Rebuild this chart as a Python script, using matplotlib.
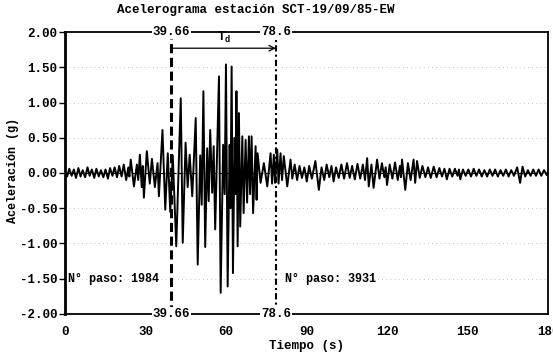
import matplotlib
matplotlib.use('Agg')
import matplotlib.pyplot as plt
import numpy as np

# ---------------- data ----------------
pre_t = [
    0.0, 0.8, 1.6, 2.5, 3.3, 4.1, 5.0, 5.8, 6.6, 7.5,
    8.4, 9.2, 10.0, 10.9, 11.7, 12.6, 13.4, 14.3, 15.1, 16.0,
    16.8, 17.7, 18.5, 19.4, 20.2, 21.1, 21.9, 22.8, 23.6, 24.0,
    24.5, 25.7, 26.8, 27.3, 27.9, 28.6, 29.0, 29.4, 30.5, 31.6,
    32.4, 33.5, 34.5]
pre_a = [
    0.02, -0.05, 0.06, -0.04, 0.05, -0.07, 0.07, -0.05, 0.04, -0.06,
    0.08, -0.04, 0.05, -0.07, 0.06, -0.05, 0.04, -0.06, 0.05, -0.08,
    0.07, -0.04, 0.08, -0.06, 0.10, -0.05, 0.12, -0.10, 0.08, -0.05,
    0.19, -0.19, 0.12, -0.10, 0.26, -0.20, 0.10, -0.35, 0.31, -0.15,
    0.20, -0.20, 0.14]

strong_t = [
    35.0, 36.33, 37.37, 38.30, 39.23, 40.16, 41.47, 43.14, 43.88, 44.94,
    45.72, 46.47, 47.42, 48.72, 49.46, 50.39, 50.95, 51.58, 52.25, 52.99,
    53.55, 54.11, 54.85, 55.41, 55.97, 57.38, 58.01, 58.94, 59.50, 59.99,
    60.62, 61.36, 61.66, 62.10, 62.59, 63.22, 63.59, 63.89, 64.34, 64.82,
    65.30, 66.08, 66.57, 67.31, 67.87, 68.54, 68.98, 69.54, 70.10, 71.03,
    71.40, 71.77, 72.89, 74.12, 75.38, 76.61, 77.17, 77.84, 78.28, 79.10,
    79.58, 80.33, 80.88, 81.55, 82.82]
strong_a = [
    -0.33, 0.61, -0.52, 0.28, -0.55, 0.25, -1.04, 1.06, -0.99, 0.43,
    -0.20, 0.26, -0.33, 0.78, -1.30, 0.25, -0.45, 1.16, -1.05, 0.35,
    -0.40, 0.61, -0.28, 0.38, -0.80, 1.37, -1.70, 0.40, -0.30, 1.54,
    -1.61, 0.40, -0.50, 1.51, -1.42, 0.50, -0.30, 1.16, -1.04, 0.85,
    -0.76, 0.52, -0.57, 0.47, -0.42, 0.52, -0.30, 0.52, -0.57, 0.38,
    -0.38, 0.28, -0.14, 0.14, -0.19, 0.28, -0.15, 0.26, -0.14, 0.33,
    -0.15, 0.28, -0.10, 0.24, -0.19]

post_t = [
    84.05, 84.7, 85.6, 86.5, 87.4, 88.3, 89.2, 90.1, 91.0, 92.0,
    93.3, 94.6, 95.6, 96.6, 97.5, 98.5, 99.3, 100.1, 101.0, 102.0,
    103.0, 104.0, 105.1, 106.1, 107.0, 108.0, 109.0, 110.0, 111.0, 111.8,
    112.6, 113.2, 114.2, 115.0, 116.3, 117.2, 118.1, 119.0, 119.5, 120.0,
    121.0, 122.0, 123.0, 124.0, 124.8, 125.2, 125.6, 126.8, 127.8, 128.8,
    129.9, 130.5, 131.2, 132.2, 133.2, 134.3, 135.3, 136.3, 137.4, 138.5,
    139.5, 140.5, 141.4, 142.3, 143.3, 144.3, 145.3, 146.3, 146.8, 147.3,
    148.3, 149.3, 150.3, 151.3, 152.3, 153.3, 154.3, 155.3, 156.3, 157.3,
    158.3, 159.3, 160.3, 161.3, 162.3, 163.3, 164.3, 165.3, 166.3, 167.3,
    168.5, 169.6, 170.5, 171.5, 172.5, 173.5, 174.5, 175.5, 176.5, 177.5,
    178.5, 179.5, 180.0]
post_a = [
    0.19, -0.08, 0.12, -0.10, 0.10, -0.07, 0.08, -0.12, 0.10, -0.08,
    0.17, -0.24, 0.08, -0.10, 0.12, -0.06, 0.10, -0.12, 0.08, -0.07,
    0.12, -0.08, 0.14, -0.07, 0.10, -0.09, 0.13, -0.08, 0.12, -0.10,
    0.21, -0.19, 0.12, -0.21, 0.19, -0.08, 0.14, -0.06, 0.08, -0.17,
    0.12, -0.08, 0.15, -0.10, 0.10, -0.06, 0.19, -0.24, 0.14, -0.10,
    0.19, -0.14, 0.17, -0.07, 0.10, -0.06, 0.08, -0.07, 0.09, -0.06,
    0.07, -0.05, 0.06, -0.09, 0.06, -0.05, 0.06, -0.04, 0.05, -0.09,
    0.05, -0.04, 0.05, -0.05, 0.06, -0.04, 0.05, -0.05, 0.04, -0.05,
    0.05, -0.04, 0.05, -0.05, 0.04, -0.04, 0.05, -0.05, 0.04, -0.04,
    0.08, -0.14, 0.09, -0.05, 0.04, -0.04, 0.05, -0.04, 0.05, -0.04,
    0.04, -0.03, 0.02]

t_start = 39.66
t_end = 78.6
start_label = "39.66"
end_label_top = "78.6"
end_label_bottom = "78.6"
step_start = 1984
step_end = 3931

x_ticks = [0, 30, 60, 90, 120, 150, 180]
x_tick_labels = ["0", "30", "60", "90", "120", "150", "180"]
y_ticks = [2.0, 1.5, 1.0, 0.5, 0.0, -0.5, -1.0, -1.5, -2.0]
y_tick_labels = ["2.00", "1.50", "1.00", "0.50", "0.00", "-0.50", "-1.00", "-1.50", "-2.00"]
grid_levels = [1.5, 1.0, 0.5, -0.5, -1.0, -1.5]

title = "Acelerograma estación SCT-19/09/85-EW"
xlabel = "Tiempo (s)"
ylabel = "Aceleración (g)"

assert len(pre_t) == len(pre_a)
assert len(strong_t) == len(strong_a)
assert len(post_t) == len(post_a)

# ---------------- drawing ----------------
plt.rcParams['font.family'] = ['Liberation Mono', 'DejaVu Sans Mono']
plt.rcParams['font.weight'] = 'bold'
plt.rcParams['mathtext.default'] = 'regular'

fig = plt.figure(figsize=(5.53, 3.54), dpi=100)
ax = fig.add_axes([0.1175, 0.113, 0.8735, 0.7966])

t = np.concatenate([pre_t, strong_t, post_t])
a = np.concatenate([pre_a, strong_a, post_a])

for g in grid_levels:
    ax.axhline(g, color='#b0b0b0', lw=0.6, ls=(0, (1, 4)), zorder=0)
ax.axhline(0.0, color='black', lw=0.8, ls=(0, (4, 2)), zorder=1)

ax.plot(t, a, color='black', lw=1.4, zorder=3)

ax.axvline(t_start, color='black', lw=2.2, ls=(0, (3, 1.5)), zorder=4)
ax.axvline(t_end, color='black', lw=1.5, ls=(0, (3, 1.5, 1, 1.5)), zorder=4)

ax.set_xlim(0, 180)
ax.set_ylim(-2, 2)
ax.set_xticks(x_ticks)
ax.set_xticklabels(x_tick_labels)
ax.set_yticks(y_ticks)
ax.set_yticklabels(y_tick_labels)
ax.tick_params(axis='both', labelsize=9)
ax.tick_params(axis='y', direction='out', length=4, width=1, pad=1.5)
ax.tick_params(axis='x', length=0, pad=9)

ax.spines['left'].set_linewidth(2.0)
for s in ['right', 'top', 'bottom']:
    ax.spines[s].set_linewidth(1.3)

lab_kw = dict(ha='center', va='center', fontsize=9, clip_on=False, zorder=6,
              bbox=dict(fc='white', ec='none', pad=0.6))
ax.text(t_start, 2.0, start_label, **lab_kw)
ax.text(t_start, -2.0, start_label, **lab_kw)
ax.text(t_end, 2.0, end_label_top, **lab_kw)
ax.text(t_end, -2.0, end_label_bottom, **lab_kw)

ax.annotate('', xy=(t_end, 1.77), xytext=(t_start, 1.77),
            arrowprops=dict(arrowstyle='->', color='black', lw=0.9,
                            shrinkA=0, shrinkB=0), zorder=5)
ax.text((t_start + t_end) / 2, 1.92, 'T$_{d}$', ha='center', va='center',
        fontsize=9)

ax.text(1.0, -1.5, f"N° paso: {step_start}", ha='left', va='center',
        fontsize=8.5, zorder=6)
ax.text(82.0, -1.5, f"N° paso: {step_end}", ha='left', va='center',
        fontsize=8.5, zorder=6)

fig.text(0.463, 0.972, title, ha='center', va='center', fontsize=9)
fig.text(0.555, 0.024, xlabel, ha='center', va='center', fontsize=9)
fig.text(0.024, 0.517, ylabel, ha='center', va='center', fontsize=8.5,
         rotation=90)

fig.savefig('out.png', dpi=100)
